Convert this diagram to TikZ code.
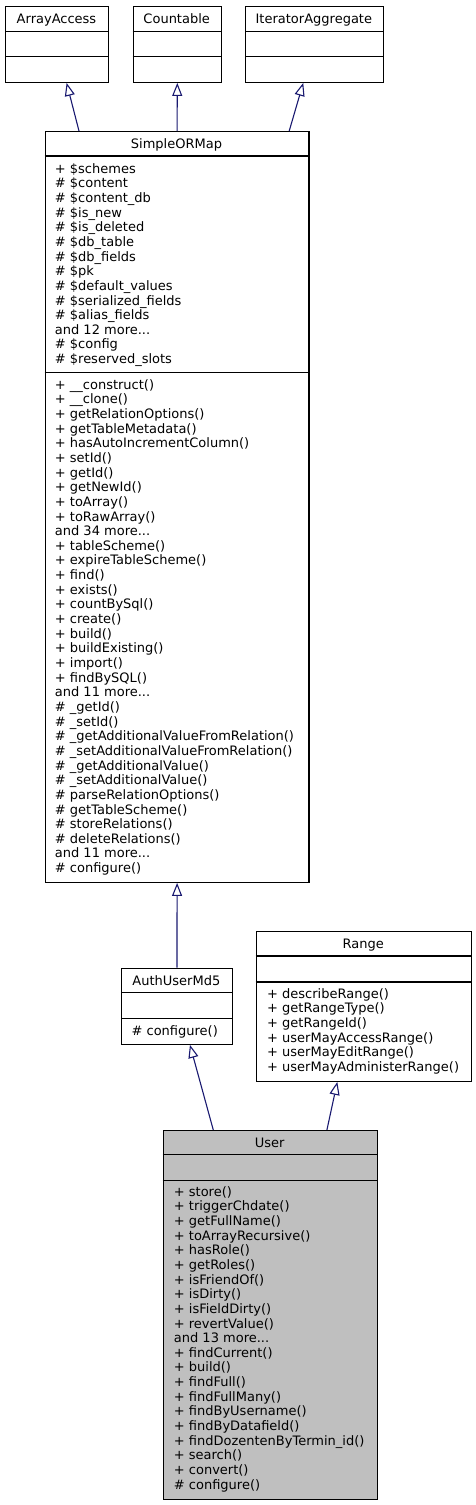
\documentclass[tikz,border=0pt]{standalone}
\usepackage{fontspec}
\setmainfont{DejaVu Sans}
\usetikzlibrary{arrows.meta}
\definecolor{edgeblue}{RGB}{25,25,112}
\definecolor{usergray}{RGB}{191,191,191}
\begin{document}
\begin{tikzpicture}[x=1pt,y=-1pt,
    classbox/.style={draw=black, line width=1.2pt, inner sep=0pt, anchor=north west},
    classname/.style={anchor=base, inner sep=0pt, font=\fontsize{13}{14.65}\selectfont},
    members/.style={anchor=north west, align=left, inner sep=0pt, font=\fontsize{13}{14.65}\selectfont},
    extends/.style={draw=edgeblue, line width=1.1pt, -{Triangle[open, length=13pt, width=10pt]}}]
    \useasboundingbox (0,0) rectangle (476,1505);

    \node[classbox, minimum width=103pt, minimum height=76pt] (arrayaccess) at (5,5.7) {};
    \draw[line width=1.2pt] (5,31.3) -- (108,31.3) (5,56.7) -- (108,56.7);
    \node[classname] (arrayaccess-name) at (56.5,23) {ArrayAccess};

    \node[classbox, minimum width=88pt, minimum height=76pt] (countable) at (132.7,5.7) {};
    \draw[line width=1.2pt] (132.7,31.3) -- (220.7,31.3) (132.7,56.7) -- (220.7,56.7);
    \node[classname] (countable-name) at (176.7,23) {Countable};

    \node[classbox, minimum width=137.7pt, minimum height=76pt] (iteratoragg) at (245,5.7) {};
    \draw[line width=1.2pt] (245,31.3) -- (382.7,31.3) (245,56.7) -- (382.7,56.7);
    \node[classname] (iteratoragg-name) at (313.85,23) {IteratorAggregate};

    \node[classbox, minimum width=263.6pt, minimum height=750.7pt] (simpleormap) at (44.7,131) {};
    \draw[line width=1.2pt] (44.7,156) -- (308.3,156) (44.7,372.3) -- (308.3,372.3);
    \node[classname] (simpleormap-name) at (176.5,148) {SimpleORMap};
    \node[members] (simpleormap-attrs) at (54.7,163.1) {+ \$schemes\\
        \# \$content\\
        \# \$content\_db\\
        \# \$is\_new\\
        \# \$is\_deleted\\
        \# \$db\_table\\
        \# \$db\_fields\\
        \# \$pk\\
        \# \$default\_values\\
        \# \$serialized\_fields\\
        \# \$alias\_fields\\
        and 12 more...\\
        \# \$config\\
        \# \$reserved\_slots};
    \node[members] (simpleormap-ops) at (54.7,379.1) {+ \_\_construct()\\
        + \_\_clone()\\
        + getRelationOptions()\\
        + getTableMetadata()\\
        + hasAutoIncrementColumn()\\
        + setId()\\
        + getId()\\
        + getNewId()\\
        + toArray()\\
        + toRawArray()\\
        and 34 more...\\
        + tableScheme()\\
        + expireTableScheme()\\
        + find()\\
        + exists()\\
        + countBySql()\\
        + create()\\
        + build()\\
        + buildExisting()\\
        + import()\\
        + findBySQL()\\
        and 11 more...\\
        \# \_getId()\\
        \# \_setId()\\
        \# \_getAdditionalValueFromRelation()\\
        \# \_setAdditionalValueFromRelation()\\
        \# \_getAdditionalValue()\\
        \# \_setAdditionalValue()\\
        \# parseRelationOptions()\\
        \# getTableScheme()\\
        \# storeRelations()\\
        \# deleteRelations()\\
        and 11 more...\\
        \# configure()};

    \node[classbox, minimum width=110.7pt, minimum height=76pt] (authusermd5) at (121,967.7) {};
    \draw[line width=1.2pt] (121,992.7) -- (231.7,992.7) (121,1018.7) -- (231.7,1018.7);
    \node[classname] (authusermd5-name) at (176.35,985) {AuthUserMd5};
    \node[members] (authusermd5-ops) at (131.4,1025.6) {\# configure()};

    \node[classbox, minimum width=215pt, minimum height=149.7pt] (range) at (255.7,931) {};
    \draw[line width=1.2pt] (255.7,956) -- (470.7,956) (255.7,982) -- (470.7,982);
    \node[classname] (range-name) at (363.2,948) {Range};
    \node[members] (range-ops) at (267,988.1) {+ describeRange()\\
        + getRangeType()\\
        + getRangeId()\\
        + userMayAccessRange()\\
        + userMayEditRange()\\
        + userMayAdministerRange()};

    \node[classbox, fill=usergray, minimum width=214pt, minimum height=369pt] (user) at (162.7,1130) {};
    \draw[line width=1.2pt] (162.7,1154.3) -- (376.7,1154.3) (162.7,1180.7) -- (376.7,1180.7);
    \node[classname] (user-name) at (269.7,1147) {User};
    \node[members] (user-ops) at (173.7,1186.1) {+ store()\\
        + triggerChdate()\\
        + getFullName()\\
        + toArrayRecursive()\\
        + hasRole()\\
        + getRoles()\\
        + isFriendOf()\\
        + isDirty()\\
        + isFieldDirty()\\
        + revertValue()\\
        and 13 more...\\
        + findCurrent()\\
        + build()\\
        + findFull()\\
        + findFullMany()\\
        + findByUsername()\\
        + findByDatafield()\\
        + findDozentenByTermin\_id()\\
        + search()\\
        + convert()\\
        \# configure()};

    \draw[extends] ([xshift=34.3pt]simpleormap.north west) -- ([xshift=9.5pt]arrayaccess.south);
    \draw[extends] (simpleormap.north) -- (countable.south);
    \draw[extends] ([xshift=-20.3pt]simpleormap.north east) -- ([xshift=-11.2pt]iteratoragg.south);
    \draw[extends] (authusermd5.north) -- (simpleormap.south);
    \draw[extends] ([xshift=50.6pt]user.north west) -- ([xshift=13pt]authusermd5.south);
    \draw[extends] ([xshift=-51pt]user.north east) -- ([xshift=-26.5pt]range.south);
\end{tikzpicture}
\end{document}
